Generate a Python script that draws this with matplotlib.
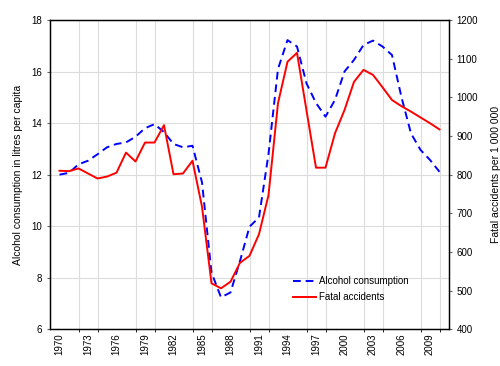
import matplotlib
matplotlib.use("Agg")
import matplotlib.pyplot as plt
from matplotlib.ticker import MultipleLocator

plt.rcParams['font.family'] = ['Liberation Sans', 'DejaVu Sans']

years = list(range(1970, 2011))

# alcohol consumption, litres per capita (left axis)
alcohol = [12.0, 12.07, 12.4, 12.54, 12.79, 13.06, 13.19, 13.25, 13.47, 13.8,
           13.96, 13.65, 13.19, 13.06, 13.12, 11.7, 8.2, 7.24, 7.43, 8.65,
           9.98, 10.34, 12.8, 16.1, 17.22, 16.97, 15.54, 14.78, 14.25, 14.9,
           16.0, 16.45, 17.03, 17.2, 16.97, 16.64, 15.0, 13.6, 12.96, 12.57, 12.11]

# fatal accidents per 1 000 000 (right axis)
fatal = [810, 809, 816, 803, 790, 795, 805, 857, 834, 883,
         883, 928, 801, 803, 836, 717, 519, 506, 523, 572,
         590, 646, 747, 985, 1092, 1115, 966, 818, 818, 907,
         967, 1040, 1071, 1058, 1026, 993, 977, 963, 948, 933, 917]

fig = plt.figure(figsize=(5.0, 3.66), dpi=100)
ax = fig.add_axes([0.1, 0.1003, 0.798, 0.8451])
ax2 = ax.twinx()

l1, = ax.plot(years, alcohol, color='#0000ff', linestyle=(0, (4, 2.5)), linewidth=1.4,
              label='Alcohol consumption')
l2, = ax2.plot(years, fatal, color='#ff0000', linewidth=1.4, label='Fatal accidents')

ax.set_xlim(1969, 2011)
ax.set_ylim(6, 18)
ax2.set_ylim(400, 1200)

ax.yaxis.set_major_locator(MultipleLocator(2))
ax2.yaxis.set_major_locator(MultipleLocator(100))
ax.set_xticks(list(range(1970, 2011, 3)))
ax.set_xticks(list(range(1970, 2011, 2)), minor=True)
ax.tick_params(axis='x', which='major', length=0, labelrotation=90, labelsize=7, pad=3)
ax.tick_params(axis='x', which='minor', length=2)
ax.tick_params(axis='y', labelsize=7, length=2, color='#666666')
ax2.tick_params(axis='y', labelsize=7, length=2, color='#666666')

ax.grid(True, which='minor', axis='x', color='#dcdcdc', linewidth=0.8)
ax.grid(True, which='major', axis='y', color='#dcdcdc', linewidth=0.8)
ax.set_axisbelow(True)

ax.set_ylabel('Alcohol consumption in litres per capita', fontsize=7.5, labelpad=6)
ax2.set_ylabel('Fatal accidents per 1 000 000', fontsize=7.5, labelpad=9)

for a in (ax, ax2):
    for s in a.spines.values():
        s.set_linewidth(0.9)

ax2.legend([l1, l2], ['Alcohol consumption', 'Fatal accidents'], loc='lower left',
           bbox_to_anchor=(0.6, 0.075), frameon=False, fontsize=7,
           handlelength=2.3, borderaxespad=0, labelspacing=0.6, handletextpad=0.3)

plt.savefig('out.png', dpi=100)
